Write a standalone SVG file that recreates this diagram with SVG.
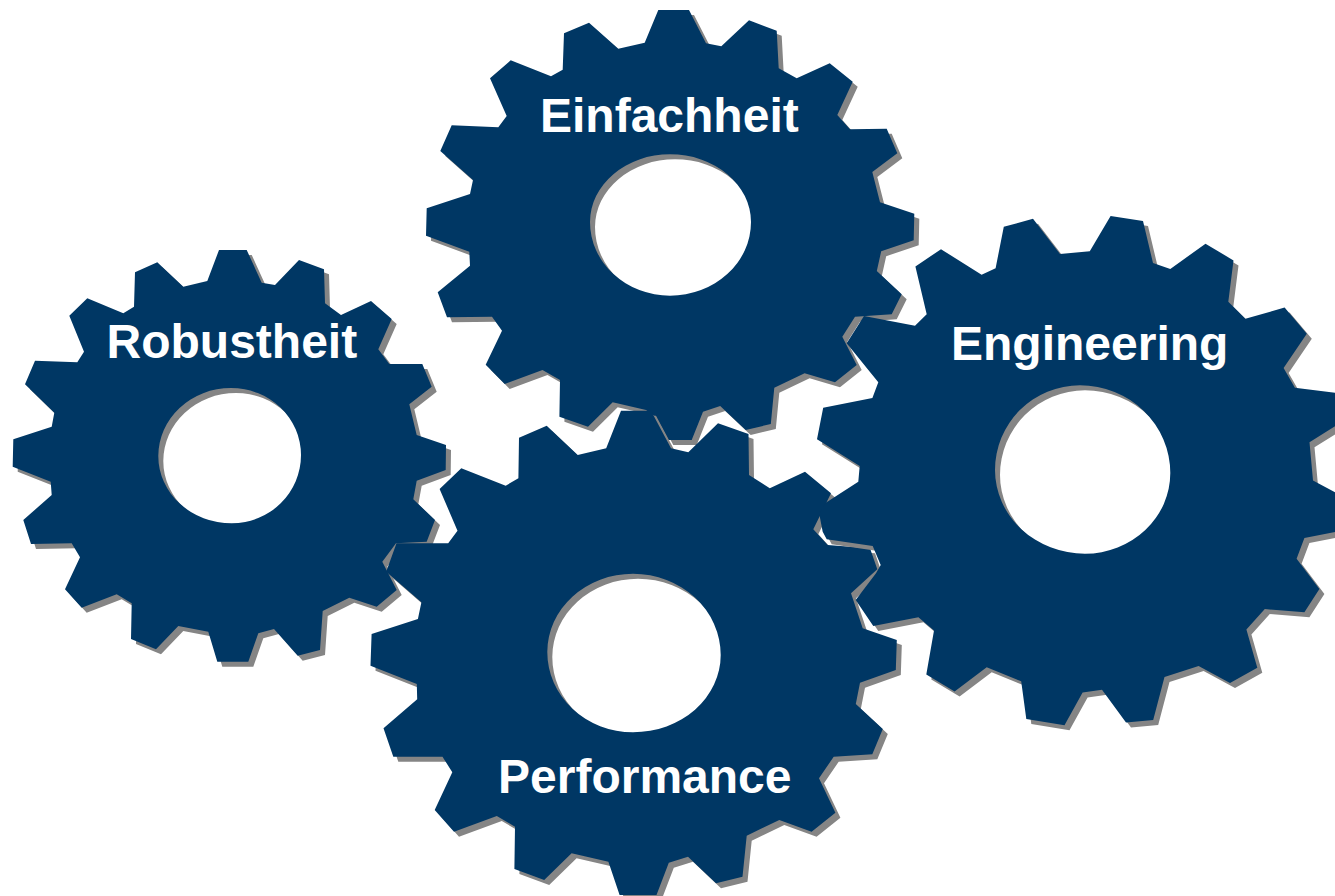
<svg xmlns="http://www.w3.org/2000/svg" width="1335" height="896" viewBox="0 0 1335 896">
<style>
.gear{fill:#003764;fill-rule:evenodd}
.shadow{fill:#858585;fill-rule:evenodd}
.label{font-family:"Liberation Sans",Arial,sans-serif;font-weight:700;font-size:48px;fill:#fff}
</style>
<defs>
<path id="s-rob" d="M219,250 246.7,250 261.7,282.7 275,285 299,260 324,269.3 325,303.3 341,315 371,301 391.7,319 378.3,349.3 389.3,364 422.3,364 431.7,386.7 409.3,404.3 416.7,435 446,445 445.7,470 416.7,480.7 413.3,499.3 435,520 426.7,541.7 396,543.3 382.3,561.7 396.7,590 376.7,606.7 349.3,597.7 322.7,611 320,650 297.7,655.7 274,629 258.3,633.3 248.3,661.7 217.3,661.7 208.3,631.7 178.3,626 156,649.3 131,639 131.7,603.3 116.7,594.3 81.7,607.7 65,589.3 80,557.3 71.7,543.3 31,544 23.3,520 51.7,495 50.7,481.7 12.7,466.7 13.3,439.3 51.7,426.7 54.3,412.7 25,384.3 35,360.7 77.3,362.3 84,351.7 69.3,315.7 87.3,298.3 123.3,313.3 134,306.7 135,272.3 157.3,262.3 183.3,286.7 207.3,281Z M158.3,456A72.7,68 0 0 1 231,388A70,67 0 0 1 301,455A69.3,68.3 0 0 1 231.7,523.3A73.4,67.3 0 0 1 158.3,456Z"/>
<path id="s-top" d="M658.3,10 689,10 706,43.3 721.3,46.3 749,20.3 776.7,30.7 778.7,68.3 796.7,78.3 829.7,63.3 852.7,81.7 837.3,115 850,129.3 886.7,128.7 897.3,153.3 872.3,172 880,202.3 914.3,213.7 913.7,240.3 881.2,251.2 876.8,271 901.7,294.3 891.7,314.3 855,316.7 842.3,336.7 856.7,365 835,382.3 804.6,373.3 774.3,387.7 770.8,424 745.7,430 720.2,406 703,411.7 691.7,440 668.3,440 656,417 646,410 612.7,402.3 588,426.7 559.4,416.7 560,380 542.5,370 504.7,384 485.7,364.7 502,330.7 492,316.7 447,317.3 437.7,292.3 470,265.7 469.3,251.7 426,235.7 426.7,208.3 470,194 473,180 440.3,151 451.7,125.3 498.3,127.3 506.7,116 490,78.3 510.7,60.3 551,76.3 562.7,69.7 564,33.3 589,22.7 618.3,48.7 644.7,42.7Z M590,222A80,67.700 0 0 1 670,154.300A81,67.700 0 0 1 751,222A81,73.700 0 0 1 670,295.700A80,73.700 0 0 1 590,222Z"/>
<path id="s-perf" d="M621,410.7 651,410.7 671,448.3 688.3,452.3 718,423.3 748.5,434 749,475 769.8,488.3 805,471.7 831,493.3 813.3,529.3 827.7,545 870,548.3 877.3,569.3 851,593.3 862.7,628.3 896.8,640 895.8,670 860,682.7 855.8,704 882.8,729 872.3,754.3 833.7,756.7 819,778.3 835.4,812.7 811.6,831.7 779.3,820 746.7,835.7 742.5,876.7 716,883.3 688,856.7 668.8,862.7 656.5,895 619.6,895 608.4,861.7 571.6,853.3 544.2,880 514.4,869 515,826.7 496.8,816 454,831.7 434.7,810 452.3,772.3 442.5,756.7 393.3,756.7 383.5,728.3 417.2,699.3 416.8,684 370.5,665.7 371.6,634 417.9,619 421.4,602.3 386.2,571.7 396.5,543.3 448.2,543.3 457.5,530.7 439.6,489 461.3,468.3 505.7,485.7 518.4,478.3 519,437.7 546.7,425.7 577.7,455 606.2,448.3Z M547.300,652A85.700,78.300 0 0 1 633,573.700A87.700,81.300 0 0 1 720.700,655A87.700,77.300 0 0 1 633,732.300A85.700,80.300 0 0 1 547.300,652Z"/>
<path id="s-eng" d="M1033,218.8 1060,254 1089.8,251.2 1110.6,216 1143,221 1153,263 1170.3,269 1205.5,243.7 1233.5,260.4 1228.3,301.7 1245.4,318.8 1284.6,307.5 1306.8,333.8 1283.6,367.9 1294.9,387.7 1345,394 1345,420 1309.5,442.2 1313,480.5 1345,497.6 1345,530 1304.4,538 1296.6,558.8 1319.4,589 1304.4,612.2 1264.8,609.1 1246.4,629.4 1257.3,667.7 1230,683.1 1198.6,666 1164.5,677 1153.2,720 1126,722.4 1102,689.7 1082.6,692.4 1064.5,725.2 1026.3,718.9 1021.2,681.3 986.7,667.2 954.6,691.4 926.3,674.5 934,630.4 918.4,617.3 873.3,626 855.7,600 876,573.3 880.7,565 872.7,546 826.7,539.3 822.7,531.7 819.3,514.3 825,503.3 858.3,481.7 859.7,465.9 817,439.3 823.2,407.7 872.4,398 878.3,382.3 846.7,343.3 864,316 915,325.7 926.7,314.3 915.4,266.5 941,249.2 981.6,274.7 995.6,268.2 1003.8,226.8Z M995,470A85,84.700 0 0 1 1080,385.300A90.300,87.700 0 0 1 1170.300,473A85.300,80.700 0 0 1 1085,553.700A90,83.700 0 0 1 995,470Z"/>
</defs>
<g id="node-robustheit">
<use href="#s-rob" class="shadow" x="5" y="5"/>
<use href="#s-rob" class="gear"/>
<text class="label" x="106.500" y="357.500">Robustheit</text>
</g>
<g id="node-einfachheit">
<use href="#s-top" class="shadow" x="5" y="5"/>
<use href="#s-top" class="gear"/>
<text class="label" x="540" y="131.700">Einfachheit</text>
</g>
<g id="node-performance">
<use href="#s-perf" class="shadow" x="5" y="5"/>
<use href="#s-perf" class="gear"/>
<text class="label" x="498" y="793">Performance</text>
</g>
<g id="node-engineering">
<use href="#s-eng" class="shadow" x="5" y="5"/>
<use href="#s-eng" class="gear"/>
<text class="label" x="951" y="360">Engineering</text>
</g>
</svg>
